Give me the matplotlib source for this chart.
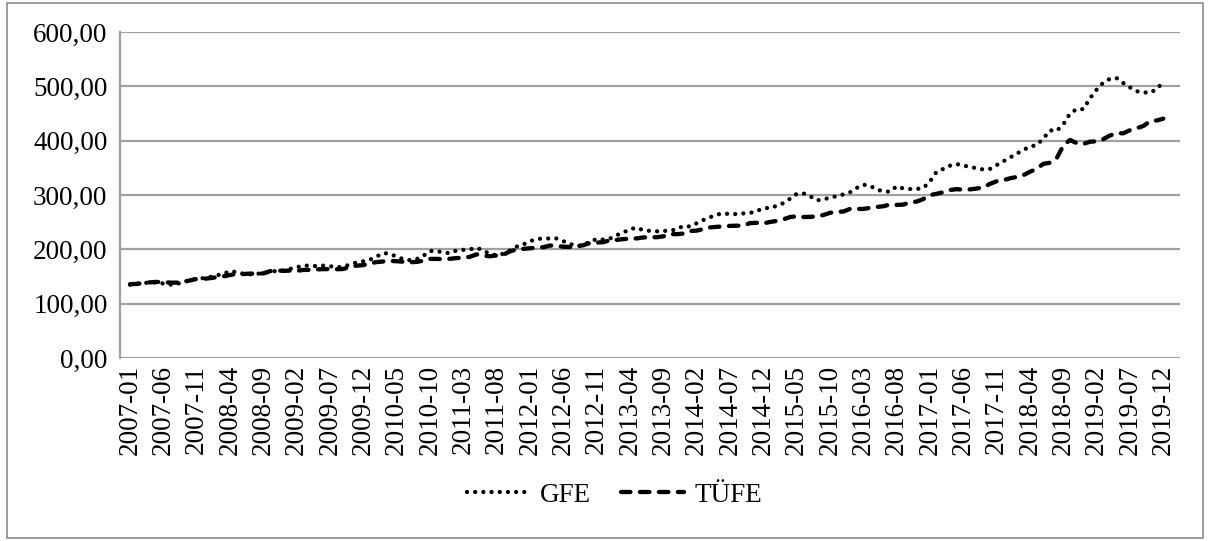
import matplotlib
matplotlib.use("Agg")
import matplotlib.pyplot as plt
from matplotlib.patches import Rectangle
from matplotlib.ticker import FuncFormatter

plt.rcParams['font.family'] = ['Liberation Serif', 'DejaVu Serif']

# months 2007-01 .. 2019-12
months = [f"{y}-{m:02d}" for y in range(2007, 2020) for m in range(1, 13)]

gfe = [
    135, 137, 138, 139, 139, 137, 135, 136, 140, 143, 146, 147,   # 2007
    149, 152, 155, 160, 158, 155, 154, 155, 156, 159, 160, 161,   # 2008
    164, 167, 170, 170, 169, 170, 169, 167, 168, 172, 176, 178,   # 2009
    181, 187, 193, 192, 186, 182, 180, 182, 188, 197, 197, 194,   # 2010
    193, 198, 199, 200, 203, 198, 191, 189, 192, 198, 205, 209,   # 2011
    215, 219, 220, 220, 220, 215, 210, 206, 208, 214, 219, 218,   # 2012
    220, 226, 231, 237, 240, 235, 234, 233, 234, 234, 237, 243,   # 2013
    242, 248, 254, 259, 264, 266, 265, 265, 266, 267, 270, 276,   # 2014
    276, 280, 285, 293, 302, 303, 298, 290, 292, 295, 298, 301,   # 2015
    305, 313, 319, 317, 310, 307, 306, 316, 312, 311, 311, 313,   # 2016
    325, 343, 348, 354, 357, 354, 352, 349, 347, 348, 355, 362,   # 2017
    369, 376, 383, 389, 392, 404, 419, 418, 430, 450, 458, 458,   # 2018
    478, 494, 507, 514, 515, 506, 498, 491, 489, 488, 495, 508,   # 2019
]

tufe = [
    135.8, 136.4, 137.7, 139.3, 140.0, 139.7, 138.7, 138.7, 140.1, 142.7, 145.5, 145.8,
    146.9, 148.8, 150.3, 152.8, 155.1, 154.5, 155.4, 155.0, 155.7, 159.8, 161.1, 160.4,
    160.9, 160.4, 162.1, 162.2, 163.2, 163.4, 163.8, 163.3, 163.9, 167.9, 170.0, 170.9,
    174.1, 176.6, 177.6, 178.7, 178.1, 177.1, 176.2, 176.9, 179.1, 182.4, 182.4, 181.9,
    182.6, 183.9, 184.7, 186.3, 190.8, 188.1, 187.3, 188.7, 190.1, 196.3, 199.7, 200.9,
    202.0, 203.1, 203.9, 207.0, 206.6, 204.8, 204.3, 205.4, 207.6, 211.6, 212.4, 213.2,
    216.8, 217.4, 218.8, 219.7, 220.1, 221.8, 222.4, 222.2, 223.9, 227.9, 227.9, 229.0,
    233.5, 234.5, 237.2, 240.4, 241.3, 242.1, 243.2, 243.4, 243.7, 248.3, 248.8, 247.7,
    250.4, 252.2, 255.2, 259.4, 260.8, 259.5, 259.7, 260.8, 263.1, 267.2, 269.0, 269.5,
    274.4, 274.4, 274.3, 276.4, 278.0, 279.3, 282.6, 281.8, 282.3, 286.4, 287.9, 292.6,
    299.8, 302.2, 305.3, 309.3, 310.7, 309.9, 310.3, 311.9, 313.9, 320.5, 325.2, 327.4,
    330.7, 333.2, 336.5, 342.8, 348.3, 357.4, 359.4, 367.7, 390.8, 401.3, 395.5, 393.9,
    398.1, 398.7, 402.8, 409.6, 413.5, 413.6, 419.3, 422.9, 427.0, 435.6, 437.2, 440.5,
]

fig = plt.figure(figsize=(12.10, 5.41), dpi=100)
ax = fig.add_axes([120 / 1210, 1 - 358 / 541, 1060 / 1210, 326 / 541])

x = list(range(len(months)))
lw = 3.1
ax.plot(x, gfe, color='black', lw=lw, linestyle=(0, (0.001, 1.9)),
        dash_capstyle='round', label='GFE', zorder=3)
ax.plot(x, tufe, color='black', lw=lw, linestyle=(0, (2.2, 2.2)),
        dash_capstyle='round', label='TÜFE', zorder=3)

ax.set_ylim(0, 600)
ax.set_yticks(range(0, 601, 100))
ax.yaxis.set_major_formatter(FuncFormatter(lambda v, p: f"{v:.2f}".replace('.', ',')))
ax.set_xlim(-1.5, 157.5)
ax.set_xticks(x[::5])
ax.set_xticklabels(months[::5], rotation=90)
ax.tick_params(axis='both', length=0, labelsize=19.5, colors='black')
ax.tick_params(axis='y', pad=9)
ax.tick_params(axis='x', pad=5)

ax.grid(axis='y', color='#a0a0a0', lw=1.6)
ax.set_axisbelow(True)
for s in ['top', 'right', 'bottom']:
    ax.spines[s].set_visible(False)
ax.spines['left'].set_color('#a0a0a0')
ax.spines['left'].set_linewidth(1.6)

fig.legend(loc='center', bbox_to_anchor=(0.508, 0.085), ncol=2, frameon=False,
           fontsize=19.5, handlelength=2.3, columnspacing=1.1, handletextpad=0.4)

fig.patches.append(Rectangle((7 / 1210, 3 / 541), 1196 / 1210, 535 / 541,
                             transform=fig.transFigure, fill=False,
                             edgecolor='#8c8c8c', lw=1.2))

fig.savefig('out.png', dpi=100)
